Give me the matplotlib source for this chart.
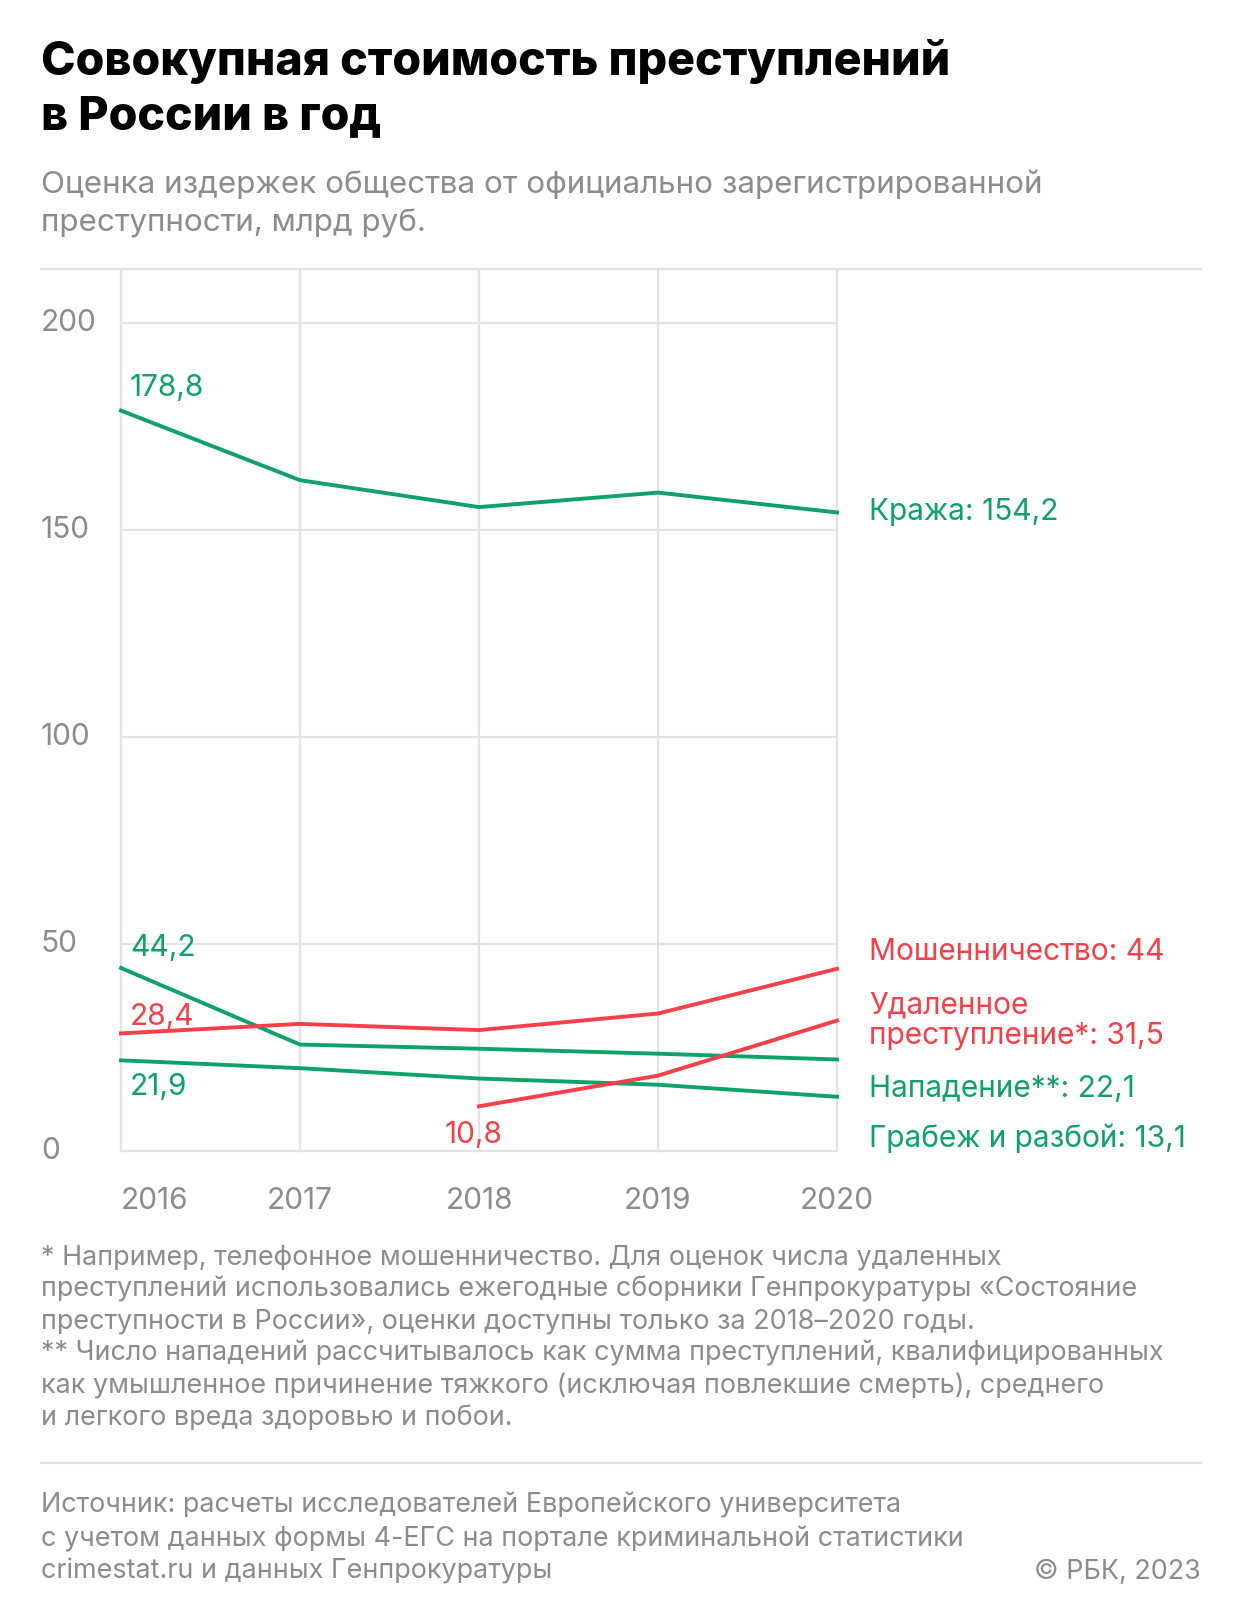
import matplotlib
matplotlib.use("Agg")
import matplotlib.pyplot as plt
from matplotlib.lines import Line2D

plt.rcParams['font.family'] = ['Inter', 'DejaVu Sans']

years = [2016, 2017, 2018, 2019, 2020]
krazha = [178.8, 162.0, 155.5, 159.0, 154.2]
napadenie = [44.2, 25.7, 24.7, 23.5, 22.1]
grabezh = [21.9, 20.0, 17.5, 16.0, 13.1]
moshen = [28.4, 30.7, 29.2, 33.2, 44.0]
udal_years = [2018, 2019, 2020]
udal = [10.8, 18.2, 31.5]
yticks = [0, 50, 100, 150, 200]

GREEN = '#0fa268'
RED = '#f5404a'
GRAY = '#8c8c8c'
GRID = '#e3e3e3'

W, H = 1240, 1616
fig = plt.figure(figsize=(W/100, H/100), dpi=100)
def fx(px): return px / W
def fy(py): return 1 - py / H

ax = fig.add_axes([fx(121), fy(1151), fx(837) - fx(121), fy(269) - fy(1151)])
ax.set_xlim(2016, 2020)
ax.set_ylim(0, 213)
for s in ax.spines.values():
    s.set_visible(False)
ax.set_xticks([]); ax.set_yticks([])
for y in yticks:
    ax.plot([2016, 2020], [y, y], color=GRID, lw=1.6, zorder=1, clip_on=False)
for x in years:
    ax.plot([x, x], [0, 213], color=GRID, lw=1.6, zorder=1, clip_on=False)

lw = 2.8
ax.plot(years, krazha, color=GREEN, lw=lw, zorder=3, clip_on=False)
ax.plot(years, napadenie, color=GREEN, lw=lw, zorder=3, clip_on=False)
ax.plot(years, grabezh, color=GREEN, lw=lw, zorder=3, clip_on=False)
ax.plot(years, moshen, color=RED, lw=lw, zorder=3, clip_on=False)
ax.plot(udal_years, udal, color=RED, lw=lw, zorder=3, clip_on=False)

fs = 21.5
tr = matplotlib.transforms.blended_transform_factory(fig.transFigure, ax.transData)
for y in yticks:
    fig.text(fx(41), y, str(y), fontsize=fs, color=GRAY, ha='left', va='center', transform=tr)
for x in years:
    ha = 'left' if x == 2016 else 'center'
    ax.text(x, -12, str(x), fontsize=fs, color=GRAY, ha=ha, va='center', clip_on=False)

def fmt(v):
    return ('%g' % v).replace('.', ',')

ax.text(2016.05, krazha[0] + 2, fmt(krazha[0]), color=GREEN, fontsize=fs, ha='left', va='bottom')
ax.text(2016.05, napadenie[0] + 1.5, fmt(napadenie[0]), color=GREEN, fontsize=fs, ha='left', va='bottom')
ax.text(2016.05, moshen[0] + 0.5, fmt(moshen[0]), color=RED, fontsize=fs, ha='left', va='bottom')
ax.text(2016.05, grabezh[0] - 3, fmt(grabezh[0]), color=GREEN, fontsize=fs, ha='left', va='top')
ax.text(1999.97 + 18, udal[0] - 3.5, fmt(udal[0]), color=RED, fontsize=fs, ha='center', va='top')

lx = 2020.18
ax.text(lx, krazha[-1], 'Кража: ' + fmt(krazha[-1]), color=GREEN, fontsize=fs, va='center')
ax.text(lx, 48, 'Мошенничество: ' + fmt(moshen[-1]), color=RED, fontsize=fs, va='center')
ax.text(lx, 31.5, 'Удаленное\nпреступление*: ' + fmt(udal[-1]), color=RED, fontsize=fs, va='center', linespacing=1.1)
ax.text(lx, 15, 'Нападение**: ' + fmt(napadenie[-1]), color=GREEN, fontsize=fs, va='center')
ax.text(lx, 3, 'Грабеж и разбой: ' + fmt(grabezh[-1]), color=GREEN, fontsize=fs, va='center')

fig.text(fx(41), fy(62), 'Совокупная стоимость преступлений', fontsize=33.5, fontweight='heavy', va='center')
fig.text(fx(41), fy(117), 'в России в год', fontsize=33.5, fontweight='heavy', va='center')
fig.text(fx(41), fy(184), 'Оценка издержек общества от официально зарегистрированной', fontsize=22.6, color=GRAY, va='center')
fig.text(fx(41), fy(223), 'преступности, млрд руб.', fontsize=22.6, color=GRAY, va='center')
fig.add_artist(Line2D([fx(41), fx(1201)], [fy(269), fy(269)], color=GRID, lw=1.6))

notes = ['* Например, телефонное мошенничество. Для оценок числа удаленных',
         'преступлений использовались ежегодные сборники Генпрокуратуры «Состояние',
         'преступности в России», оценки доступны только за 2018–2020 годы.',
         '** Число нападений рассчитывалось как сумма преступлений, квалифицированных',
         'как умышленное причинение тяжкого (исключая повлекшие смерть), среднего',
         'и легкого вреда здоровью и побои.']
for i, n in enumerate(notes):
    fig.text(fx(41), fy(1257 + i * 32.3), n, fontsize=19.4, color=GRAY, va='center')
fig.add_artist(Line2D([fx(41), fx(1201)], [fy(1463), fy(1463)], color=GRID, lw=1.6))
src = ['Источник: расчеты исследователей Европейского университета',
       'с учетом данных формы 4-ЕГС на портале криминальной статистики',
       'crimestat.ru и данных Генпрокуратуры']
for i, n in enumerate(src):
    fig.text(fx(41), fy(1506 + i * 33), n, fontsize=19.4, color=GRAY, va='center')
fig.text(fx(1201), fy(1572), '© РБК, 2023', fontsize=19.4, color=GRAY, va='center', ha='right')

fig.savefig('out.png', dpi=100, facecolor='white')
